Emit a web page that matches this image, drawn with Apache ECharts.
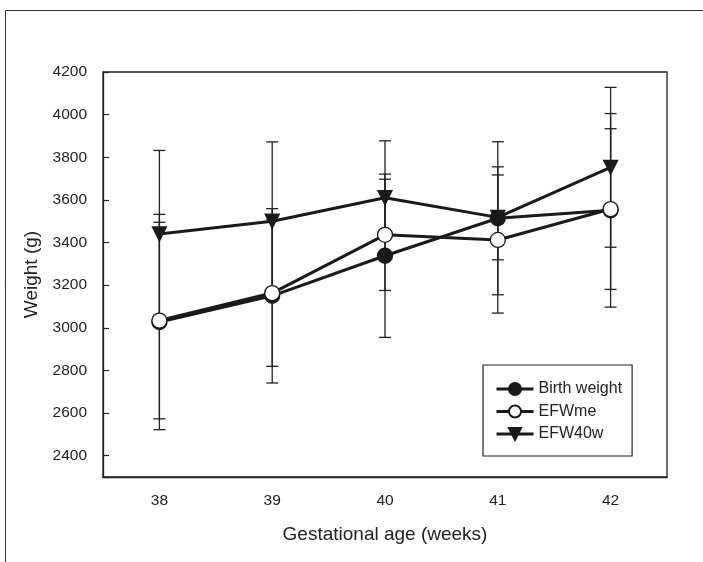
<!DOCTYPE html>
<html>
<head>
<meta charset="utf-8">
<script src="https://cdn.jsdelivr.net/npm/echarts@6/dist/echarts.min.js"></script>
<style>
  html, body { margin: 0; padding: 0; background: #fff; }
  #chart { width: 703px; height: 562px; }
</style>
</head>
<body>
<div id="chart"></div>
<script>
// gestational age categories
const weeks = ['38', '39', '40', '41', '42'];

// means (g) and SD
const birthWeight = [3027, 3150, 3338, 3514, 3551];
const birthWeightSd = [505, 409, 383, 359, 454];
const efwMe = [3034, 3163, 3436, 3412, 3557];
const efwMeSd = [461, 344, 261, 343, 377];
const efw40w = [3440, 3500, 3610, 3518, 3753];
const efw40wSd = [392, 372, 267, 199, 375];

const yTicks = [2400, 2600, 2800, 3000, 3200, 3400, 3600, 3800, 4000, 4200];

const ink = '#1a1a1a';
const font = 'Liberation Sans, Arial, sans-serif';

const chart = echarts.init(document.getElementById('chart'));

// build [index, low, high] rows for the error bars
const errRows = (mean, sd) => mean.map((m, i) => [i, m - sd[i], m + sd[i]]);

const renderErr = (params, api) => {
  const i = api.value(0);
  const lo = api.coord([i, api.value(1)]);
  const hi = api.coord([i, api.value(2)]);
  const half = 6;
  const style = { stroke: '#222', lineWidth: 1.3 };
  return {
    type: 'group',
    children: [
      { type: 'line', shape: { x1: lo[0], y1: lo[1], x2: hi[0], y2: hi[1] }, style },
      { type: 'line', shape: { x1: hi[0] - half, y1: hi[1], x2: hi[0] + half, y2: hi[1] }, style },
      { type: 'line', shape: { x1: lo[0] - half, y1: lo[1], x2: lo[0] + half, y2: lo[1] }, style }
    ]
  };
};

const errSeries = (name, mean, sd) => ({
  name: name + ' SD',
  type: 'custom',
  renderItem: renderErr,
  data: errRows(mean, sd),
  encode: { x: 0, y: [1, 2] },
  z: 1,
  silent: true
});

const lineSeries = (name, data, symbol, fill, rotate) => ({
  name,
  type: 'line',
  data,
  symbol,
  symbolSize: symbol === 'triangle' ? 14 : 15,
  symbolRotate: rotate || 0,
  showAllSymbol: true,
  lineStyle: { color: ink, width: 3 },
  itemStyle: { color: fill, borderColor: ink, borderWidth: 1.3 },
  z: 3
});

const option = {
  animation: false,
  backgroundColor: '#fff',
  textStyle: { fontFamily: font },
  grid: {
    left: 103, right: 36, top: 72, bottom: 85,
    show: true, borderColor: '#222', borderWidth: 1.3
  },
  legend: {
    orient: 'vertical',
    left: 483, top: 365,
    padding: [16, 10, 14, 12],
    itemWidth: 37, itemHeight: 15, itemGap: 6.5,
    borderColor: '#222', borderWidth: 1.2,
    lineStyle: { width: 3 },
    textStyle: { fontSize: 16, color: '#222', fontFamily: font },
    data: ['Birth weight', 'EFWme', 'EFW40w']
  },
  xAxis: {
    type: 'category',
    data: weeks,
    boundaryGap: true,
    name: 'Gestational age (weeks)',
    nameLocation: 'middle',
    nameGap: 48,
    nameTextStyle: { fontSize: 19, color: '#222', fontFamily: font },
    axisLine: { lineStyle: { color: '#222', width: 1.3 } },
    axisTick: { alignWithLabel: true, length: 6, lineStyle: { color: '#222', width: 1.2 } },
    axisLabel: { fontSize: 15.5, color: '#222', margin: 16, fontFamily: font },
    splitLine: { show: false }
  },
  yAxis: {
    type: 'value',
    min: 2300, max: 4200,
    splitNumber: 10,
    name: 'Weight (g)',
    nameLocation: 'middle',
    nameGap: 56,
    nameTextStyle: { fontSize: 19, color: '#222', fontFamily: font },
    axisLine: { show: true, lineStyle: { color: '#222', width: 1.3 } },
    axisTick: { show: true, inside: true, length: 6, lineStyle: { color: '#222', width: 1.2 } },
    axisLabel: {
      fontSize: 15.5, color: '#222', margin: 16, fontFamily: font,
      formatter: v => (yTicks.indexOf(v) >= 0 ? String(v) : '')
    },
    splitLine: { show: false }
  },
  graphic: [
    {
      type: 'polyline',
      shape: { points: [[5.5, 562], [5.5, 10.5], [703, 10.5]] },
      style: { stroke: '#333', lineWidth: 1, fill: null },
      silent: true
    }
  ],
  series: [
    errSeries('Birth weight', birthWeight, birthWeightSd),
    errSeries('EFWme', efwMe, efwMeSd),
    errSeries('EFW40w', efw40w, efw40wSd),
    lineSeries('Birth weight', birthWeight, 'circle', ink),
    lineSeries('EFWme', efwMe, 'circle', '#fff'),
    lineSeries('EFW40w', efw40w, 'triangle', ink, 180)
  ]
};

chart.setOption(option);
</script>
</body>
</html>
